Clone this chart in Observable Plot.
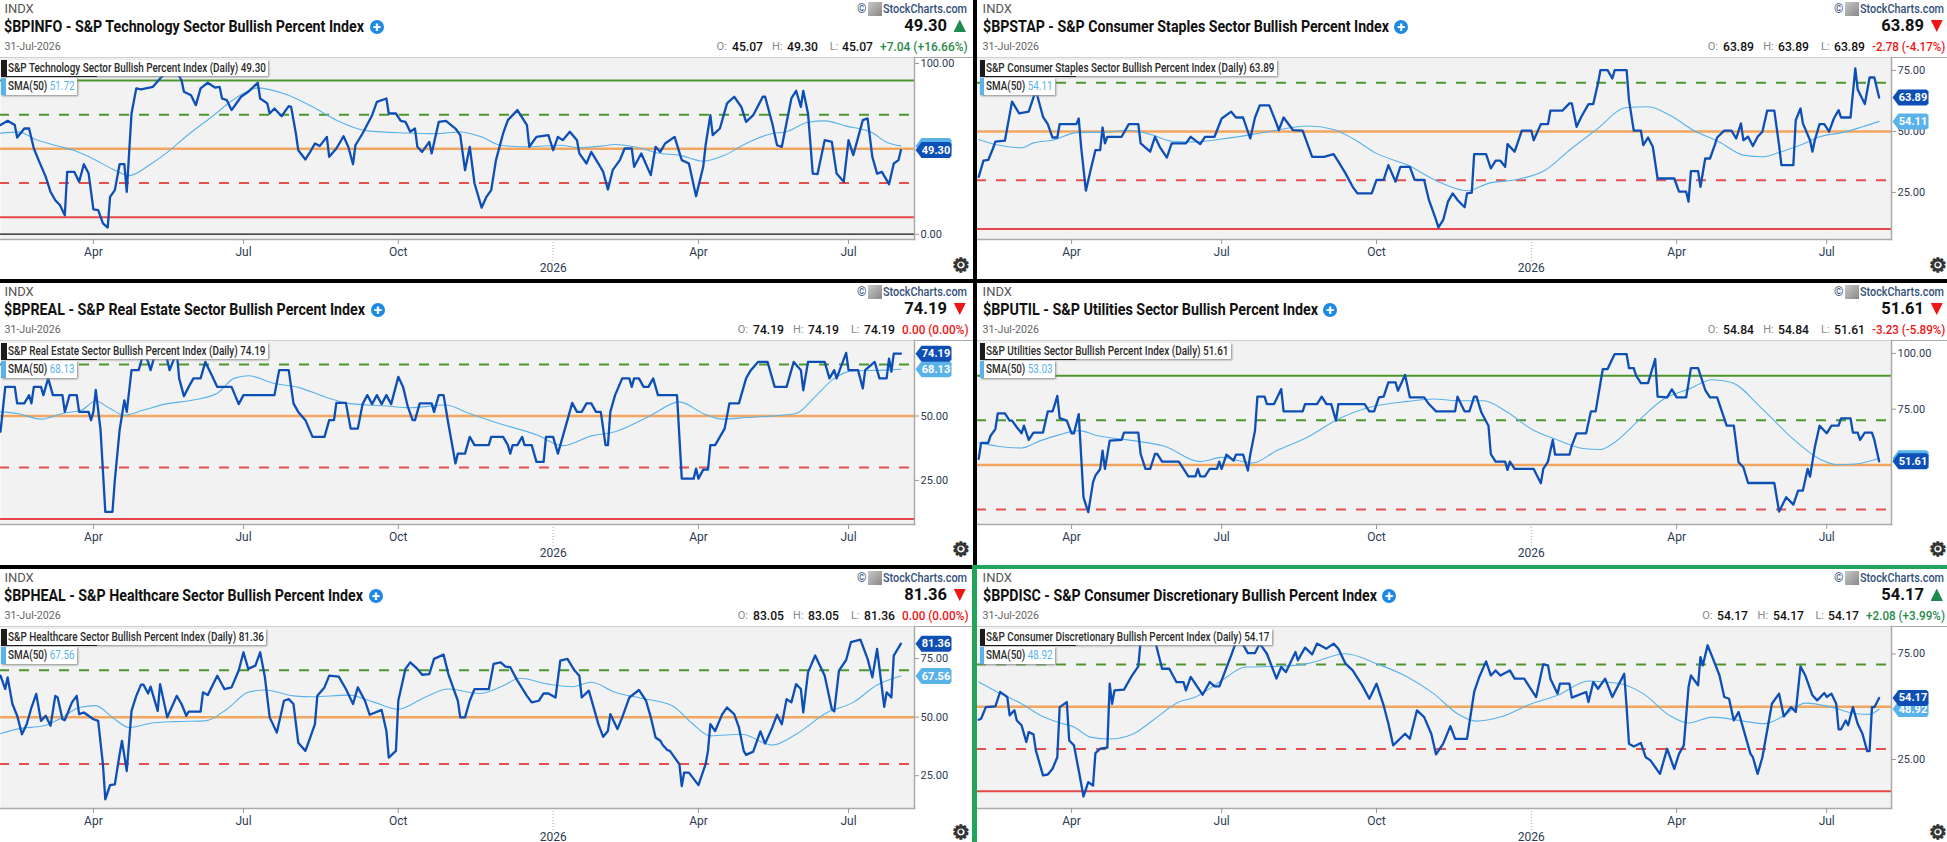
<!DOCTYPE html>
<html><head><meta charset="utf-8">
<script src="https://cdn.jsdelivr.net/npm/d3@7"></script>
<script src="https://cdn.jsdelivr.net/npm/@observablehq/plot@0.6"></script>
<style>
html,body{margin:0;padding:0;background:#000}
#page{position:relative;width:1947px;height:842px;background:#000;overflow:hidden;font-family:Roboto,sans-serif}
.panel{position:absolute;background:#fff;overflow:hidden}
.abs{position:absolute;white-space:nowrap}
.fit{transform-origin:left center;display:inline-block}
.panel svg{position:absolute;overflow:visible}
.lg{position:absolute;background:#fff;box-shadow:1px 1px 2px #8a8a8a}
</style></head><body><div id="page"></div>
<script>
// x = trading sessions since early Feb 2025, y = bullish percent
const techLine=[[0,63.9],[3,66.4],[6,63.9],[7,56.6],[10,61.9],[12,61.9],[14,50.2],[16,43.4],[19,33.6],[21,24.8],[23,19.9],[25,17],[27,11.1],[28,36.5],[31,36.5],[33,30.7],[35,41],[37,35.5],[39,14.5],[41,14.1],[43,6.3],[45,3.9],[46,21.9],[48,25.8],[50,41],[52,41],[53,24.8],[55,70.7],[57,85.4],[59,84.8],[64,86.3],[67,91.2],[69,94.1],[74,95.1],[76,90.2],[77,83.4],[80,81.4],[82,75.6],[84,85.4],[87,88.7],[90,85.9],[92,86.3],[93,79.5],[95,78.5],[97,72.7],[101,80.5],[104,83.4],[108,88.7],[109,79.5],[112,76.6],[113,70.7],[115,73.6],[118,69.1],[121,75],[122,74.6],[124,59],[125,49.2],[128,43.8],[130,48.2],[132,53.1],[134,51.6],[137,57],[138,45.3],[141,50.2],[144,57.4],[146,51.2],[148,41],[149,52.1],[152,59],[156,69.7],[158,77.5],[162,79.5],[163,70.7],[166,70.7],[168,66.4],[170,65.8],[172,60],[174,61.9],[175,51.2],[177,48.2],[180,54.1],[181,47.3],[184,65.8],[187,66.4],[191,61.9],[193,58],[195,37.5],[197,51.2],[199,29.7],[202,15.6],[204,21.9],[206,25.8],[208,43.4],[211,59],[213,66.8],[217,72.7],[221,63.9],[222,51.2],[225,57],[230,58],[232,49.2],[234,57],[236,55.1],[239,60],[242,55.1],[243,47.3],[246,41.4],[248,48.2],[251,41.4],[253,36.5],[255,26.2],[257,37.5],[260,43.4],[262,50.2],[265,50.2],[266,39.5],[269,47.3],[273,34.6],[275,51.2],[277,48.2],[279,53.1],[283,57],[286,43.4],[289,41.4],[292,22.3],[295,39.5],[296,52.1],[298,69.7],[299,58],[302,61.9],[305,76.6],[308,80.5],[311,74.6],[313,65.8],[316,69.7],[320,80.5],[321,80.5],[324,64.8],[326,52.1],[328,51.2],[332,79.5],[334,84],[336,74.6],[337,84],[339,70.7],[341,35.5],[343,35.2],[346,55.1],[349,54.1],[351,35.5],[354,30.7],[356,55.1],[358,46.3],[362,66.8],[364,67.8],[366,45.3],[368,35.5],[370,36.5],[373,29.3],[375,41.4],[377,43.4],[378,49.3]];
const techSma=[[0,59.2],[8,59.8],[14,55.9],[23,52],[31,49],[39,44.1],[47,38.2],[54,34.3],[63,41],[70,47.9],[78,57.4],[89,69.1],[98,79],[108,85.7],[120,81.8],[131,74.6],[141,66.8],[154,60.5],[170,59.3],[183,58.9],[193,59.9],[202,57],[210,52.1],[222,51.2],[235,52.1],[243,50.6],[252,51.6],[258,52.5],[266,51.2],[277,47.3],[285,46.3],[295,42.8],[304,46.3],[313,53.1],[324,59],[330,60],[339,65.6],[346,66.4],[355,63.3],[366,59.4],[372,53.9],[378,51.72]];
const stapLine=[[0,31.4],[2,38],[4,38.3],[6,43],[7,45.8],[11,46.2],[14,62.2],[17,57.4],[21,58.1],[24,66.9],[27,56],[29,53],[31,47.5],[33,47.5],[34,53],[41,53],[42,55.3],[43,43.7],[45,25.7],[47,34.2],[49,42.3],[51,42.3],[52,51.6],[53,45.1],[54,47.8],[60,47.8],[63,53],[67,53],[68,45.1],[72,41.7],[74,47.8],[76,43.7],[79,39.3],[81,45.1],[87,45.1],[89,47.8],[93,44.8],[95,47.8],[99,47.8],[102,55.3],[106,58.1],[108,55.7],[111,55.7],[114,47.1],[116,55.7],[118,60.7],[122,60.7],[125,53.3],[126,50.5],[128,55.7],[132,50.5],[136,50.3],[140,39.6],[145,39.6],[149,40.7],[151,37.6],[154,32.8],[157,27.3],[159,24.6],[165,24.6],[167,30.1],[170,30.1],[172,36.2],[175,29.4],[177,35.5],[181,35.5],[183,30.1],[187,30.1],[189,21.9],[192,13.7],[193,10.7],[195,13.7],[197,21.2],[199,24.6],[201,21.9],[204,18.9],[205,24.6],[207,24.9],[208,40.7],[213,40.7],[215,34.8],[217,38],[219,38],[221,35.5],[222,44.8],[225,41.7],[228,50.3],[232,50.3],[233,46.4],[236,53],[239,53],[240,58.5],[245,58.5],[248,61.5],[249,61.5],[251,51.9],[253,56],[256,61.2],[258,61.2],[260,69.7],[261,75.1],[264,75.1],[266,71.7],[267,75.1],[272,75.1],[273,62.8],[275,50.3],[278,50.3],[279,44.4],[281,47.5],[283,43.7],[285,30.7],[292,30.7],[294,25.3],[297,25.3],[298,21.2],[299,33.7],[302,33.7],[303,27.3],[305,38.9],[307,38.9],[309,44.4],[310,47.5],[313,50.3],[316,50.3],[318,47.1],[320,53.3],[321,46.4],[323,47.8],[325,44],[327,47.8],[329,49.9],[331,58.5],[334,58.5],[336,44.4],[337,36.2],[342,36.2],[343,54.6],[345,59.4],[346,53.3],[349,46.4],[350,41.7],[351,46.4],[353,53],[355,53],[357,49.9],[359,55.3],[361,58.7],[362,55.7],[366,55.7],[368,75.8],[369,67.2],[372,61.2],[374,72.1],[376,72.1],[378,63.89]];
const stapSma=[[0,46.7],[8,44.4],[18,43.3],[23,45.3],[31,46.4],[42,49.6],[52,49.6],[63,50.5],[73,48.5],[81,46],[91,45.7],[102,46.9],[115,48.8],[125,50.5],[138,52.2],[149,50.8],[157,47.1],[167,41],[180,36.2],[193,29.4],[205,25.7],[214,28.7],[227,30.5],[238,34.2],[248,42.3],[259,50.5],[272,59.8],[281,60.1],[290,56.7],[300,50.5],[311,45.7],[321,40.3],[329,39.6],[337,41.7],[345,44.4],[353,47.8],[363,49.6],[371,51.9],[378,54.11]];
const realLine=[[0,43.9],[2,61.3],[6,61.3],[7,54.9],[10,54.9],[12,58.1],[13,54.9],[14,61.3],[17,61.3],[18,58.1],[20,64.6],[22,58.1],[26,58.1],[27,51.6],[29,58.1],[32,58.1],[33,51.6],[37,51.6],[38,48.4],[39,51.6],[40,60.1],[42,44.5],[44,12.8],[47,12.8],[48,25.1],[50,44.5],[52,56.1],[53,51.6],[55,67.8],[58,67.8],[60,74.3],[62,71],[63,67.8],[65,74.3],[68,77.5],[70,71.7],[71,67.8],[74,74.9],[75,64.6],[77,57.7],[79,61.3],[81,64.6],[84,64.6],[86,71],[89,65.2],[91,61.3],[97,61.3],[100,54.6],[102,58.1],[115,58.1],[117,67.8],[121,67.8],[123,54.9],[125,51.6],[128,48.4],[131,41.9],[136,41.9],[138,48.4],[140,48.4],[141,55.1],[145,55.1],[147,45.1],[150,45.1],[152,54.6],[154,58.1],[156,54.6],[158,58.1],[160,54.6],[162,58.1],[164,54.6],[167,65.2],[169,61.3],[171,53.6],[173,48.4],[174,48.4],[176,54.9],[181,54.9],[182,51.6],[184,58.1],[186,58.1],[188,47.1],[191,31.6],[192,35.4],[195,35.4],[197,41.9],[199,38.7],[205,38.7],[206,41.9],[211,41.9],[213,38.7],[214,35.4],[215,38.7],[217,38.7],[219,41.9],[220,38.7],[223,38.7],[225,32.2],[228,32.2],[229,41.9],[232,41.9],[234,35.4],[236,41.9],[238,48.4],[240,55.1],[242,51.6],[244,51.6],[246,54.9],[248,54.9],[250,51.6],[252,51.6],[254,38.7],[255,38.7],[256,51.6],[258,58.1],[261,64.6],[264,64.6],[265,61.3],[266,64.6],[268,64.6],[270,61.3],[272,61.3],[274,64.6],[276,58.1],[284,58.1],[286,25.7],[291,25.7],[292,29.6],[293,25.7],[295,29.2],[297,29.2],[298,38.7],[300,38.7],[302,41.9],[304,45.1],[306,54.9],[310,54.9],[313,64.6],[315,67.8],[318,71],[322,71],[325,61.3],[330,61.3],[333,71],[336,67.8],[337,60],[339,71],[346,71],[348,64.6],[350,67.8],[351,64.6],[355,74.5],[356,67.8],[360,67.8],[362,60.7],[363,67.8],[367,71],[369,64.6],[372,64.6],[373,72.3],[374,67.2],[375,74.19],[378,74.19]];
const realSma=[[0,51.6],[7,51],[17,48.8],[26,51],[34,52.3],[40,55.8],[46,52.9],[52,50.3],[60,52.3],[69,54.6],[81,56.2],[91,58.8],[98,64.6],[104,65.6],[115,62.6],[125,61.1],[136,57.5],[146,54.9],[162,53.9],[172,53.2],[187,54.3],[196,51.3],[209,47.2],[225,42.7],[236,38.5],[248,42.3],[258,43.9],[272,49.7],[285,55.5],[295,51],[303,48.8],[313,49.4],[334,51],[342,57.5],[350,64.6],[358,67.5],[371,67.8],[378,68.13]];
const utilLine=[[0,52.7],[1,59.9],[4,59.9],[5,63.1],[7,66.1],[8,73.1],[11,73.1],[13,69.9],[14,69.9],[16,66.9],[18,64.2],[19,67.6],[21,61.2],[23,64.5],[27,64.5],[29,74],[31,74],[32,77.3],[33,81],[34,71],[37,69.9],[39,64.2],[40,64.2],[42,72.8],[44,35.5],[46,28.8],[48,42.2],[49,45.2],[51,48.2],[52,56.4],[53,48.2],[55,60.9],[60,61.2],[61,64.5],[67,64.5],[68,54.9],[70,48.2],[72,48.2],[74,54.9],[75,54.9],[77,51.5],[84,51.5],[86,48.2],[88,44.9],[91,44.9],[92,48.2],[93,44.9],[95,44.9],[97,48.2],[100,48.2],[101,51.5],[102,48.2],[104,54.6],[107,51.9],[108,54.6],[111,54.6],[113,47.5],[114,54.6],[116,65.4],[117,80.6],[120,80.6],[121,77.3],[124,77.3],[127,84],[128,74],[136,74],[137,77.3],[142,77.3],[144,80.6],[146,77.3],[148,77.3],[150,69.9],[151,77.3],[162,77.3],[164,74],[166,74],[168,80.3],[170,80.6],[172,87],[175,87],[176,83.3],[179,90.3],[181,80.3],[187,80.3],[189,77.3],[192,74],[200,74],[201,80.6],[204,74],[206,74],[208,80.6],[209,80.6],[211,73.6],[214,67.6],[215,54.9],[217,51.5],[221,51.5],[222,47.8],[223,51.5],[225,48.2],[233,48.2],[236,41.8],[237,48.2],[239,51.5],[241,61.2],[242,54.6],[248,54.6],[249,58.7],[251,64.2],[255,64.2],[257,74],[259,74],[262,93],[264,93],[267,99.7],[272,99.7],[273,93.4],[275,93.4],[276,90],[278,86.7],[281,86.7],[284,97.5],[285,80.6],[289,80.3],[291,83.9],[293,80.3],[297,80.3],[299,93.4],[302,93.4],[305,83.6],[307,80.3],[310,80.3],[314,67.6],[317,67.6],[319,51.2],[321,49],[323,41.9],[334,41.9],[336,29.1],[339,35.5],[342,32.2],[344,38.5],[346,38.5],[348,48.2],[349,44.8],[351,57.9],[353,67.6],[356,64.2],[358,67.6],[361,67.6],[362,70.9],[366,70.9],[367,64.5],[369,64.5],[370,61.2],[372,64.5],[375,64.5],[376,61.2],[378,51.61]];
const utilSma=[[0,59.9],[8,58.4],[18,57.6],[26,60.9],[34,63.6],[42,65.4],[50,63.1],[65,60.9],[78,58.4],[93,51.5],[102,53.4],[115,50.9],[125,56.4],[138,62.4],[151,70.6],[165,76.1],[180,78.5],[191,79.6],[201,78.8],[212,78.8],[222,73.6],[232,66.1],[243,61.2],[253,57.5],[261,56.9],[266,59.4],[277,69.9],[287,79.1],[298,84],[308,88.2],[316,87],[329,75],[342,61.6],[353,52.7],[361,50.1],[368,50.4],[378,53.03]];
const healLine=[[0,67.7],[2,62],[3,67],[5,55.6],[7,50.6],[9,42.7],[11,47],[13,54.1],[15,59.9],[17,48.4],[19,50.6],[21,46.3],[23,59.1],[24,58.4],[26,49.1],[27,48.7],[30,56.3],[32,59.1],[33,51.3],[35,52],[39,49.1],[41,48.4],[43,29.9],[44,14.9],[46,21],[48,21.3],[50,34.1],[51,39.9],[53,27],[55,52.7],[57,59.1],[59,63.9],[60,63.9],[62,60.1],[63,63],[66,52.7],[67,64.1],[70,49.9],[74,59.1],[76,55.6],[78,50.6],[79,52.4],[84,52.4],[85,60.6],[87,59.4],[91,67.7],[94,62],[97,62.7],[100,69.9],[102,77.7],[104,70.6],[107,72],[109,77.7],[111,67],[113,49.9],[116,43.4],[119,57],[121,57.7],[123,55.6],[125,39.1],[128,35.6],[130,41.3],[132,47],[133,59.1],[136,62.7],[138,67.7],[142,67.3],[145,62],[148,55.6],[150,62.7],[153,57],[155,51],[160,53.1],[162,44.1],[163,32.7],[166,35.6],[167,57],[170,70.6],[172,73.4],[175,70.6],[177,68.1],[180,68.4],[182,74.9],[186,76.7],[188,68.4],[192,57],[193,49.9],[195,49.9],[197,57],[199,62],[205,62],[207,72.7],[210,73.4],[212,71.6],[214,71.3],[217,65.6],[221,59.1],[223,56.3],[226,57],[228,60.1],[230,60.1],[233,58.4],[235,74.1],[238,74.9],[241,69.9],[243,67.7],[244,58.4],[247,61.3],[251,47],[253,41.6],[255,44.1],[256,51.3],[259,44.9],[261,49.9],[264,58.4],[268,61.6],[271,57],[273,49.9],[275,41.3],[277,39.9],[278,38.1],[280,35.9],[281,35.6],[285,29.9],[286,20.6],[287,26.3],[289,26.3],[293,21],[296,29.9],[297,35.6],[298,47],[300,44.1],[303,51.3],[305,54.1],[308,51.3],[310,45.6],[312,35.6],[313,33.9],[316,35.3],[319,43.9],[321,38.7],[324,45.6],[326,51],[328,47],[330,57.7],[332,56.3],[334,64.1],[336,62],[337,52],[339,69.1],[342,76.3],[346,67.7],[349,53.4],[350,52.4],[352,69.9],[355,74.4],[357,82],[361,83.1],[364,74.9],[366,67],[368,79.1],[371,54.4],[372,60.6],[374,58.4],[375,76.3],[378,81.36]];
const healSma=[[0,43],[8,45.1],[18,46.3],[26,49.9],[33,54.1],[40,54.9],[47,49.9],[54,45.6],[63,47.4],[73,48.1],[86,48.4],[95,53.4],[104,60.6],[111,61.6],[123,59.1],[131,58.7],[146,59.4],[157,56.3],[167,53.4],[178,58.4],[188,62],[201,60.1],[211,63.4],[218,66.6],[230,64.1],[240,63],[248,64.9],[258,60.6],[269,58.1],[282,54.9],[290,47.7],[298,42],[311,42.7],[324,38.1],[334,42.7],[347,52],[358,56.3],[368,63.7],[378,67.56]];
const discLine=[[0,43.8],[1,44.3],[3,49.8],[7,50.2],[9,57],[10,56.2],[12,54.6],[13,45.9],[15,48.3],[16,43.5],[18,41.2],[20,33.3],[21,38],[23,36.9],[24,29.3],[27,17.5],[29,17.9],[31,20.6],[33,26.1],[34,49.8],[37,52.2],[38,34],[40,31.7],[42,19.8],[44,7.5],[46,14.3],[48,12.7],[49,28],[51,30.1],[54,30.6],[55,60.9],[56,51.4],[57,57.7],[61,58.1],[64,64.1],[67,69.1],[68,81.4],[74,81.4],[77,68],[80,68],[83,61.7],[86,61.7],[87,57.7],[89,64.1],[94,55.7],[97,61.7],[99,59.6],[101,59.6],[106,74.3],[108,80.6],[110,81.4],[113,75.4],[116,75.4],[118,79.9],[121,75.1],[125,63.3],[127,68.8],[129,66.4],[133,75.9],[134,72],[137,78],[140,74.8],[142,79.9],[146,77.5],[149,79.9],[151,77.5],[154,70.4],[157,67.2],[161,60.1],[164,53.8],[167,60.9],[170,50.6],[172,41.9],[174,31.7],[179,37.2],[181,34.8],[184,48.3],[187,45.1],[190,37.2],[192,27.4],[195,32.5],[198,40.8],[200,34.8],[205,34.8],[208,57],[210,63.7],[213,71.5],[215,64.8],[217,67.2],[219,64.8],[223,67.2],[225,63.3],[229,63.3],[234,54.6],[237,70.1],[239,69.6],[240,63.3],[243,56.2],[244,60.9],[248,60.9],[249,54.3],[255,57],[256,52.2],[258,61.7],[260,58.5],[263,63.3],[266,54.6],[271,65.6],[272,49.8],[273,32.5],[275,31.2],[278,32.8],[280,26.1],[282,24.6],[286,18.2],[289,30.1],[292,20.6],[294,27.7],[296,31.7],[298,59.3],[299,64.8],[302,60.1],[303,73.5],[304,69.6],[306,79.1],[308,73.5],[311,64.8],[313,54.6],[315,53.8],[317,43.5],[319,47.5],[322,35.6],[324,27.7],[325,26.1],[327,18.2],[329,26.1],[333,51.4],[336,56.2],[338,45.4],[341,49.8],[343,47.5],[345,69.1],[347,64.8],[350,55.4],[352,53],[355,56.5],[356,54.6],[358,56.2],[360,51.4],[361,39.3],[362,39.3],[364,43.5],[365,41.2],[367,49.8],[369,41.9],[371,37.2],[373,29],[374,29],[375,49.8],[376,49.8],[378,54.17]];
const discSma=[[0,61.7],[8,56.9],[18,51.4],[26,45.9],[34,42.4],[40,40.4],[47,35.6],[55,34.7],[65,37.2],[73,43.5],[84,52.2],[91,54.6],[102,62.4],[112,68.8],[125,69.1],[138,70.4],[154,75.1],[167,70.4],[180,64.1],[191,56.2],[201,46.7],[209,43.2],[219,45.1],[232,51.4],[243,55.4],[256,62.2],[269,61],[279,56.2],[290,45.9],[298,42.3],[308,45.1],[321,43.2],[330,42],[337,45.1],[347,51.7],[358,49.8],[368,46.7],[374,46.4],[378,48.92]];

const monthTicks=[39,102,167,293,356];
const monthLabels=["Apr","Jul","Oct","Apr","Jul"];
const yearTick=232;
const symbols=["$BPINFO - S&P Technology Sector Bullish Percent Index","$BPSTAP - S&P Consumer Staples Sector Bullish Percent Index","$BPREAL - S&P Real Estate Sector Bullish Percent Index","$BPUTIL - S&P Utilities Sector Bullish Percent Index","$BPHEAL - S&P Healthcare Sector Bullish Percent Index","$BPDISC - S&P Consumer Discretionary Bullish Percent Index"];
const names=["S&P Technology Sector Bullish Percent Index (Daily) 49.30","S&P Consumer Staples Sector Bullish Percent Index (Daily) 63.89","S&P Real Estate Sector Bullish Percent Index (Daily) 74.19","S&P Utilities Sector Bullish Percent Index (Daily) 51.61","S&P Healthcare Sector Bullish Percent Index (Daily) 81.36","S&P Consumer Discretionary Bullish Percent Index (Daily) 54.17"];
const lastValues=[49.30,63.89,74.19,51.61,81.36,54.17];
const smaValues=[51.72,54.11,68.13,53.03,67.56,48.92];
const smaLabelShown=[false,true,true,false,true,true];
const opens=["45.07","63.89","74.19","54.84","83.05","54.17"];
const highs=["49.30","63.89","74.19","54.84","83.05","54.17"];
const lows=["45.07","63.89","74.19","51.61","81.36","54.17"];
const changes=["+7.04 (+16.66%)","-2.78 (-4.17%)","0.00 (0.00%)","-3.23 (-5.89%)","0.00 (0.00%)","+2.08 (+3.99%)"];
const directions=["up","down","down","down","down","up"];
const changeColors=["#2a8a4a","#f01414","#f01414","#f01414","#f01414","#2a8a4a"];
const yDomains=[[-3.1,103.5],[5.7,80.3],[7.9,79.3],[23.3,105.8],[11,88.7],[1.8,88]];
const yTicks=[[0,100],[25,50,75],[25,50],[75,100],[25,50,75],[25,75]];
const solidGreen=[[90],[],[],[90],[],[]];
const solidRed=[[10],[10],[10],[],[],[10]];
const lines=[techLine,stapLine,realLine,utilLine,healLine,discLine];
const smas=[techSma,stapSma,realSma,utilSma,healSma,discSma];
const titleWidths=[360,406,361,335,359,394];
const legendWidths=[258,288.5,257.5,242.5,256,283.5];
const changeWidths=[87.7,73.4,66.5,73.4,66.5,79];

const rowTops=[0,283,569], rowHeights=[279,282,273], plotHeights=[182,184,182];
const BLUE="#0d4fb5", SKY="#5ab2ea", INK="#2c3a52";
const page=document.getElementById("page");

function el(parent,css,html,cls){const e=document.createElement("div");e.className=cls||"abs";e.style.cssText=css;if(html!==undefined)e.textContent=html;parent.appendChild(e);return e;}
function fit(e,w){e.classList.add("fit");const m=e.getBoundingClientRect().width;e.style.transform=`scaleX(${w/m})`;}
const tagShape={draw(c){const h=8;c.moveTo(1,0);c.lineTo(7,-h);c.lineTo(35,-h);c.lineTo(37,-h+2);c.lineTo(37,h-2);c.lineTo(35,h);c.lineTo(7,h);c.closePath();}};

lines.forEach((line,i)=>{
  const col=i%2, row=Math.floor(i/2);
  const left=col?977:0, w=col?970:973, top=rowTops[row], h=rowHeights[row], ph=plotHeights[row];
  const p=el(page,`left:${left}px;top:${top}px;width:${w}px;height:${h}px`,undefined,"panel");
  const tx=col?5.6:4.4, rp=col?2:5;
  el(p,`left:${tx}px;top:1px;font-size:13px;color:#555;line-height:16px`,"INDX");
  const t=el(p,`left:${tx}px;top:17px;font-size:16.4px;font-weight:700;color:#111;line-height:20px`,symbols[i]);fit(t,titleWidths[i]);
  el(p,`left:${tx+titleWidths[i]+5.5}px;top:20px;width:14px;height:14px;border-radius:50%;background:#1e88e5;color:#fff;font-size:15px;font-weight:700;line-height:14px;text-align:center`,"+");
  el(p,`left:${tx}px;top:40px;font-size:10.7px;color:#666;line-height:13px`,"31-Jul-2026");
  // brand
  const bx=w-rp-85;
  const brand=el(p,`left:${bx}px;top:1px;font-size:13.1px;font-weight:500;color:#33507a;line-height:16px`,"StockCharts.com");fit(brand,84);
  el(p,`left:${bx-15}px;top:2px;width:14px;height:14px;background:linear-gradient(135deg,#c8c8c8,#888)`);
  el(p,`left:${bx-26}px;top:1px;font-size:12px;color:#33507a;line-height:16px`,"©");
  // price + triangle
  el(p,`right:${rp+21}px;top:16px;font-size:16.5px;font-weight:700;color:#111;line-height:20px`,lastValues[i].toFixed(2));
  const up=directions[i]==="up";
  el(p,`right:${rp+2}px;top:19.5px;width:12.5px;height:12.5px;background:${up?"#1f8a50":"#f01414"};clip-path:polygon(${up?"50% 0,100% 100%,0 100%":"0 0,100% 0,50% 100%"})`);
  // OHLC row, laid out leftwards from the change text
  const cx=w-rp-changeWidths[i];
  const cs=`top:40px;line-height:14px;font-size:12.4px;`;
  const chg=el(p,cs+`left:${cx}px;font-weight:500;color:${changeColors[i]}`,changes[i]);fit(chg,changeWidths[i]);
  [["L:",lows[i]],["H:",highs[i]],["O:",opens[i]]].forEach(([a,b],k)=>{
    const vx=cx-7-31-k*(31+12.6+11.8);
    const v=el(p,cs+`left:${vx}px;font-weight:500;color:#111`,b);fit(v,31);
    el(p,`top:40px;line-height:14px;font-size:11px;color:#888;left:${vx-(k===0?12.6:15)}px`,a);
  });
  // plot top line
  el(p,`left:0;top:56.5px;width:${w}px;height:1.5px;background:#aaa`);
  // gear
  el(p,`right:${col?0:3}px;top:${row===2?252:row===1?255:254}px;font-family:'DejaVu Sans';font-size:20px;line-height:22px;color:#333;-webkit-text-stroke:1.1px #333`,"⚙");

  // chart
  const mb=h-57-ph;
  const svg=Plot.plot({
    width:w,height:ph+mb,marginLeft:0,marginRight:w-914,marginTop:0,marginBottom:mb,
    style:{fontFamily:"Roboto,sans-serif",fontSize:"12px",background:"transparent",overflow:"visible",left:"0",top:"57px",position:"absolute"},
    x:{domain:col?[-0.5,383.2]:[0,383.7],axis:null},
    y:{domain:yDomains[i],axis:null},
    marks:[
      Plot.frame({fill:"#f2f2f2",stroke:"none"}),
      Plot.ruleY(solidGreen[i],{stroke:"#4c962c",strokeWidth:2}),
      Plot.ruleY([70],{stroke:"#4c962c",strokeWidth:2,strokeDasharray:"10,10",strokeDashoffset:1}),
      Plot.ruleY([50],{stroke:"#f3a65f",strokeWidth:2.5}),
      Plot.ruleY([30],{stroke:"#e5504f",strokeWidth:2,strokeDasharray:"10,10",strokeDashoffset:1}),
      Plot.ruleY(solidRed[i],{stroke:"#e5474a",strokeWidth:2}),
      i===0?Plot.ruleY([0],{stroke:"#111",strokeWidth:1.2}):null,
      Plot.line(smas[i],{x:d=>d[0],y:d=>d[1],stroke:SKY,strokeWidth:1.1,clip:true,curve:"monotone-x"}),
      Plot.line(line,{x:d=>d[0],y:d=>d[1],stroke:BLUE,strokeWidth:2.3,clip:true,strokeLinejoin:"round"}),
      Plot.frame({anchor:"right",stroke:"#aaa",strokeWidth:1.5}),
      Plot.frame({anchor:"bottom",stroke:"#aaa",strokeWidth:1.5}),
      Plot.axisX(monthTicks,{tickSize:5,tickPadding:3,tickFormat:d=>monthLabels[monthTicks.indexOf(d)],fill:INK,stroke:"#999",fontSize:12,label:null,anchor:"bottom"}),
      Plot.axisX([yearTick],{tickSize:24,tickPadding:0,tickFormat:()=>"2026",fill:INK,stroke:"#aaa",strokeDasharray:"1,2",fontSize:12,label:null,anchor:"bottom"}),
      Plot.axisY(yTicks[i],{anchor:"right",tickSize:4,tickPadding:2,tickFormat:".2f",fill:INK,stroke:"#999",fontSize:11,label:null}),
      Plot.dot([smaValues[i]],{y:d=>d,frameAnchor:"right",r:1,symbol:tagShape,fill:SKY,stroke:"none"}),
      smaLabelShown[i]?Plot.text([smaValues[i]],{y:d=>d,frameAnchor:"right",dx:21.5,textAnchor:"middle",text:d=>d.toFixed(2),fill:"#fff",fontSize:11,fontWeight:700}):null,
      Plot.dot([lastValues[i]],{y:d=>d,frameAnchor:"right",r:1,symbol:tagShape,fill:BLUE,stroke:"none"}),
      Plot.text([lastValues[i]],{y:d=>d,frameAnchor:"right",dx:21.5,textAnchor:"middle",text:d=>d.toFixed(2),fill:"#fff",fontSize:11,fontWeight:700})
    ]
  });
  p.appendChild(svg);

  // legend boxes over the chart
  const lx=col?2.5:1.3, ltx=col?8.7:8;
  el(p,`left:${lx}px;top:60px;width:${ltx-lx+legendWidths[i]+2.5}px;height:16px`,undefined,"lg");
  el(p,`left:${lx}px;top:60px;width:5.4px;height:16px;background:#1b1b1b`);
  el(p,`left:${lx}px;top:75.5px;width:96px;height:1.6px;background:#1b1b1b`);
  const lt=el(p,`left:${ltx}px;top:60px;font-size:12px;font-weight:500;color:#2a2a2a;line-height:16px`,names[i]);fit(lt,legendWidths[i]);
  el(p,`left:${lx}px;top:78px;width:${ltx-lx+66.5+2.5}px;height:17px`,undefined,"lg");
  el(p,`left:${lx}px;top:78px;width:4.5px;height:17px;background:${SKY}`);
  const st=el(p,`left:${ltx}px;top:78px;font-size:12px;font-weight:500;color:#2a2a2a;line-height:17px`);
  st.innerHTML=`SMA(50) <span style="color:${SKY};font-weight:400">${smaValues[i].toFixed(2)}</span>`;fit(st,66.5);
});
// green selection border of the last panel
el(page,"left:972px;top:565px;width:975px;height:4px;background:#22a55b");
el(page,"left:972px;top:565px;width:4.5px;height:277px;background:#22a55b");
</script></body></html>
